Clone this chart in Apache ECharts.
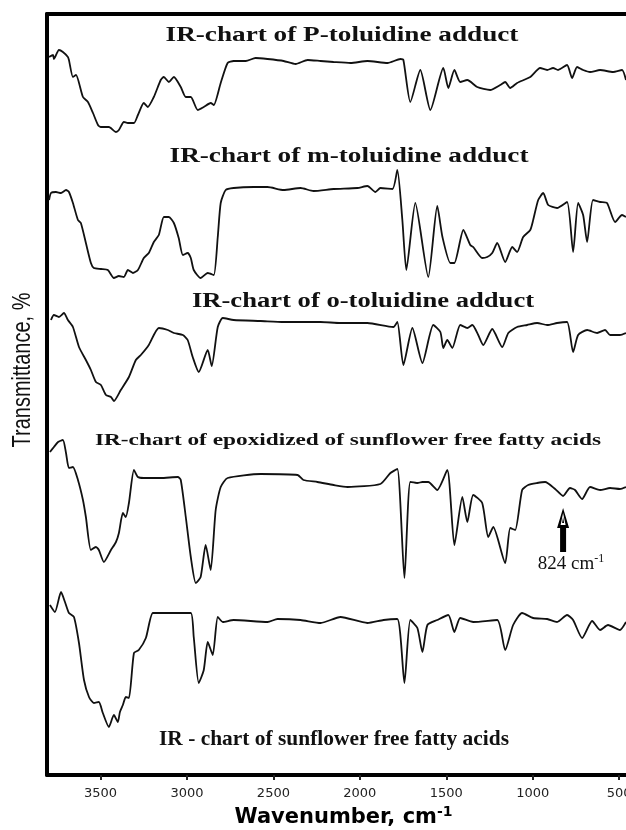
<!DOCTYPE html>
<html>
<head>
<meta charset="utf-8">
<title>IR charts</title>
<script src="https://cdn.jsdelivr.net/npm/echarts@6/dist/echarts.min.js"></script>
<style>
html, body { margin: 0; padding: 0; background: #fff; }
#chart { width: 626px; height: 830px; }
</style>
</head>
<body>
<div id="chart"></div>
<script>
// axis ticks, cm-1
var wnTicks = [3500, 3000, 2500, 2000, 1500, 1000, 500];

// spectra: [wavenumber, transmittance (arb. units, each trace has its own scale)]
var pToluidine = [
  [3798,103],[3775,105],[3770,101],[3741,110],[3718,108],[3689,103],[3683,100],[3660,83],[3642,85],
  [3602,63],[3573,58],[3544,47],[3515,35],[3498,33],[3452,33],[3411,28],[3394,30],[3365,38],[3342,37],
  [3307,37],[3284,45],[3250,57],[3227,53],[3192,63],[3152,80],[3134,83],[3105,78],[3076,83],[3036,73],
  [3007,63],[2978,63],[2938,50],[2903,53],[2863,57],[2845,55],[2805,77],[2765,97],[2730,99],[2660,99],
  [2603,102],[2534,101],[2441,99],[2372,96],[2302,100],[2227,99],[2152,98],[2054,97],[1956,99],[1840,97],
  [1765,101],[1748,100],[1708,58],[1650,90],[1592,50],[1517,92],[1488,72],[1453,90],[1419,78],[1378,80],
  [1321,73],[1246,70],[1188,75],[1159,78],[1130,72],[1090,77],[1014,83],[957,92],[916,90],[882,92],
  [853,90],[801,95],[772,82],[743,93],[708,90],[668,88],[610,90],[535,88],[483,90],[460,80]
];
var mToluidine = [
  [3798,100],[3787,107],[3758,108],[3729,107],[3700,110],[3683,108],[3660,97],[3631,80],[3614,77],
  [3585,57],[3556,37],[3539,32],[3498,31],[3458,30],[3423,22],[3394,24],[3365,23],[3342,30],[3313,27],
  [3284,30],[3250,42],[3221,47],[3192,58],[3163,65],[3134,83],[3105,83],[3076,77],[3048,62],[3024,45],
  [2996,47],[2978,42],[2961,30],[2921,22],[2880,27],[2845,25],[2822,63],[2805,97],[2776,110],[2730,112],
  [2614,113],[2534,113],[2441,110],[2343,112],[2268,109],[2152,111],[2014,112],[1956,114],[1910,108],
  [1881,112],[1811,111],[1783,130],[1754,80],[1731,30],[1679,97],[1604,23],[1552,94],[1522,63],[1476,37],
  [1453,37],[1401,70],[1361,55],[1344,53],[1292,42],[1263,43],[1234,47],[1205,57],[1159,38],[1118,53],
  [1090,48],[1055,63],[1014,70],[997,80],[968,100],[939,107],[910,95],[859,92],[801,98],[766,48],
  [737,97],[708,85],[685,58],[651,100],[610,98],[570,97],[523,78],[483,85],[460,83]
];
var oToluidine = [
  [3787,100],[3770,105],[3741,103],[3712,107],[3689,100],[3660,93],[3625,73],[3585,60],[3556,50],
  [3527,38],[3498,35],[3469,25],[3440,23],[3423,19],[3383,30],[3336,43],[3296,60],[3267,65],[3221,75],
  [3163,92],[3111,90],[3076,87],[3024,85],[2996,80],[2967,63],[2932,48],[2880,70],[2857,54],[2822,93],
  [2793,102],[2730,100],[2574,99],[2441,98],[2343,98],[2227,98],[2112,97],[1956,97],[1806,93],[1783,98],
  [1748,55],[1696,92],[1638,57],[1575,95],[1534,88],[1517,72],[1494,80],[1465,72],[1419,95],[1378,92],
  [1349,95],[1315,85],[1286,75],[1234,91],[1176,73],[1141,87],[1090,93],[1032,95],[974,97],[916,95],
  [859,97],[801,98],[766,68],[737,85],[685,90],[627,87],[581,90],[552,85],[495,85],[460,87]
];
var epoxidized = [
  [3793,148],[3770,153],[3746,158],[3718,160],[3700,147],[3683,132],[3660,133],[3631,120],[3602,100],
  [3585,83],[3556,50],[3527,53],[3510,50],[3481,38],[3440,50],[3411,58],[3394,67],[3371,87],[3354,83],
  [3336,97],[3307,130],[3284,123],[3250,122],[3152,122],[3053,123],[3036,120],[3007,83],[2978,43],
  [2949,17],[2921,23],[2892,55],[2863,30],[2834,90],[2805,113],[2765,122],[2574,126],[2360,125],
  [2326,120],[2245,118],[2152,115],[2071,113],[1881,116],[1823,127],[1783,131],[1742,22],[1708,118],
  [1667,117],[1638,118],[1604,118],[1552,110],[1494,130],[1453,55],[1407,103],[1378,78],[1344,105],
  [1292,97],[1257,63],[1228,73],[1159,37],[1130,72],[1101,70],[1061,110],[1026,115],[974,117],[928,118],
  [870,111],[824,104],[784,112],[755,110],[714,101],[668,113],[610,110],[552,112],[495,111],[460,113]
];
var sunflower = [
  [3793,135],[3764,128],[3729,148],[3706,138],[3683,127],[3654,123],[3625,97],[3596,60],[3567,43],
  [3539,37],[3510,38],[3487,27],[3452,13],[3423,25],[3400,18],[3388,28],[3371,35],[3354,43],[3336,42],
  [3307,87],[3279,90],[3238,102],[3198,127],[3152,127],[3053,127],[2978,127],[2961,103],[2932,57],
  [2903,70],[2880,98],[2851,85],[2822,123],[2793,118],[2730,120],[2534,118],[2476,121],[2343,120],
  [2227,117],[2112,123],[1956,117],[1863,120],[1783,121],[1742,57],[1708,120],[1667,112],[1638,88],
  [1609,115],[1552,120],[1488,125],[1453,108],[1419,122],[1344,118],[1205,120],[1159,90],[1113,115],
  [1061,127],[997,122],[916,121],[859,118],[801,125],[766,120],[714,102],[656,119],[610,110],[564,115],
  [495,110],[460,118]
];

var traces = [pToluidine, mToluidine, oToluidine, epoxidized, sunflower];
var traceNames = [
  'IR-chart of P-toluidine adduct',
  'IR-chart of m-toluidine adduct',
  'IR-chart of o-toluidine adduct',
  'IR-chart of epoxidized of sunflower free fatty acids',
  'IR - chart of sunflower free fatty acids'
];
var arrowMark = [824, 92];

var WN_MIN = 460, WN_MAX = 3810;
var traceTops = [0, 140, 260, 440, 580];
var titlePos = [[342, 36, 20, 1.36], [349, 157, 20, 1.36], [363, 302, 20, 1.33], [348, 441, 17, 1.37], [334, 740, 21, 1.02]];

var grids = [{ left: 47, right: 0, top: 14, bottom: 55, outerBoundsMode: 'none' }];
var xAxes = [
  {
    type: 'value', gridIndex: 0, position: 'bottom', inverse: true, min: WN_MIN, max: WN_MAX,
    axisLine: { show: true, lineStyle: { color: '#000', width: 4 } },
    axisTick: { show: true, length: 5, customValues: wnTicks, lineStyle: { color: '#222', width: 2 } },
    axisLabel: {
      show: true, customValues: wnTicks, margin: 12, color: '#222', fontSize: 13, fontFamily: 'DejaVu Sans',
      formatter: function (v) { return String(v); }
    },
    splitLine: { show: false },
    name: '{a|Wavenumber, cm}{b|-1}',
    nameLocation: 'middle',
    nameGap: 21,
    nameTextStyle: {
      padding: [0, 0, 0, 14],
      rich: {
        a: { fontFamily: 'DejaVu Sans', fontWeight: 'bold', fontSize: 21, lineHeight: 26, color: '#000' },
        b: { fontFamily: 'DejaVu Sans', fontWeight: 'bold', fontSize: 14, lineHeight: 16, verticalAlign: 'top', color: '#000' }
      }
    }
  },
  {
    type: 'value', gridIndex: 0, position: 'top', min: 0, max: 1,
    axisLine: { show: true, lineStyle: { color: '#000', width: 4 } },
    axisTick: { show: false }, axisLabel: { show: false }, splitLine: { show: false }
  }
];
var yAxes = [
  {
    type: 'value', gridIndex: 0, min: 0, max: 1,
    axisLine: { show: true, lineStyle: { color: '#000', width: 4 } },
    axisTick: { show: false }, axisLabel: { show: false }, splitLine: { show: false }
  }
];
var series = [];

traces.forEach(function (data, i) {
  grids.push({ left: 47, right: 0, top: traceTops[i], height: 160, outerBoundsMode: 'none' });
  xAxes.push({ type: 'value', gridIndex: i + 1, inverse: true, min: WN_MIN, max: WN_MAX, show: false });
  yAxes.push({ type: 'value', gridIndex: i + 1, min: 0, max: 160, show: false });
  var s = {
    name: traceNames[i],
    type: 'line',
    xAxisIndex: i + 2,
    yAxisIndex: i + 1,
    data: data,
    showSymbol: false,
    smooth: 0.2,
    clip: false,
    lineStyle: { color: '#111', width: 1.8 },
    emphasis: { disabled: true }
  };
  if (i === 3) {
    s.markPoint = {
      symbol: 'path://M6 0 L12 20 L9 20 L9 44 L3 44 L3 20 L0 20 Z M6 5 L3.5 17 L8.5 17 Z M6 9 L7 15 L5 15 Z',
      symbolSize: [12, 44],
      symbolOffset: [0, '50%'],
      itemStyle: { color: '#000' },
      label: {
        show: true, position: 'bottom', distance: 1, offset: [8, 0],
        formatter: '{a|824 cm}{b|-1}',
        rich: {
          a: { fontFamily: 'Liberation Serif', fontSize: 19, lineHeight: 22, color: '#111' },
          b: { fontFamily: 'Liberation Serif', fontSize: 12, lineHeight: 12, verticalAlign: 'top', color: '#111' }
        }
      },
      data: [{ coord: arrowMark }]
    };
  }
  series.push(s);
});

var texts = traceNames.map(function (t, i) {
  var p = titlePos[i];
  return {
    type: 'text', x: p[0], y: p[1], scaleX: p[3], scaleY: 1,
    style: {
      text: t, font: 'bold ' + p[2] + 'px "Liberation Serif"', fill: '#111',
      textAlign: 'center', textVerticalAlign: 'middle', align: 'center', verticalAlign: 'middle'
    }
  };
});
texts.push({
  type: 'text', x: 23, y: 370, rotation: Math.PI / 2, scaleX: 1, scaleY: 1.25,
  style: {
    text: 'Transmittance, %', font: '20px "Liberation Sans"', fill: '#111',
    textAlign: 'center', textVerticalAlign: 'middle', align: 'center', verticalAlign: 'middle'
  }
});

var chart = echarts.init(document.getElementById('chart'));
chart.setOption({
  animation: false,
  backgroundColor: '#fff',
  grid: grids,
  xAxis: xAxes,
  yAxis: yAxes,
  series: series,
  graphic: texts
});
</script>
</body>
</html>
